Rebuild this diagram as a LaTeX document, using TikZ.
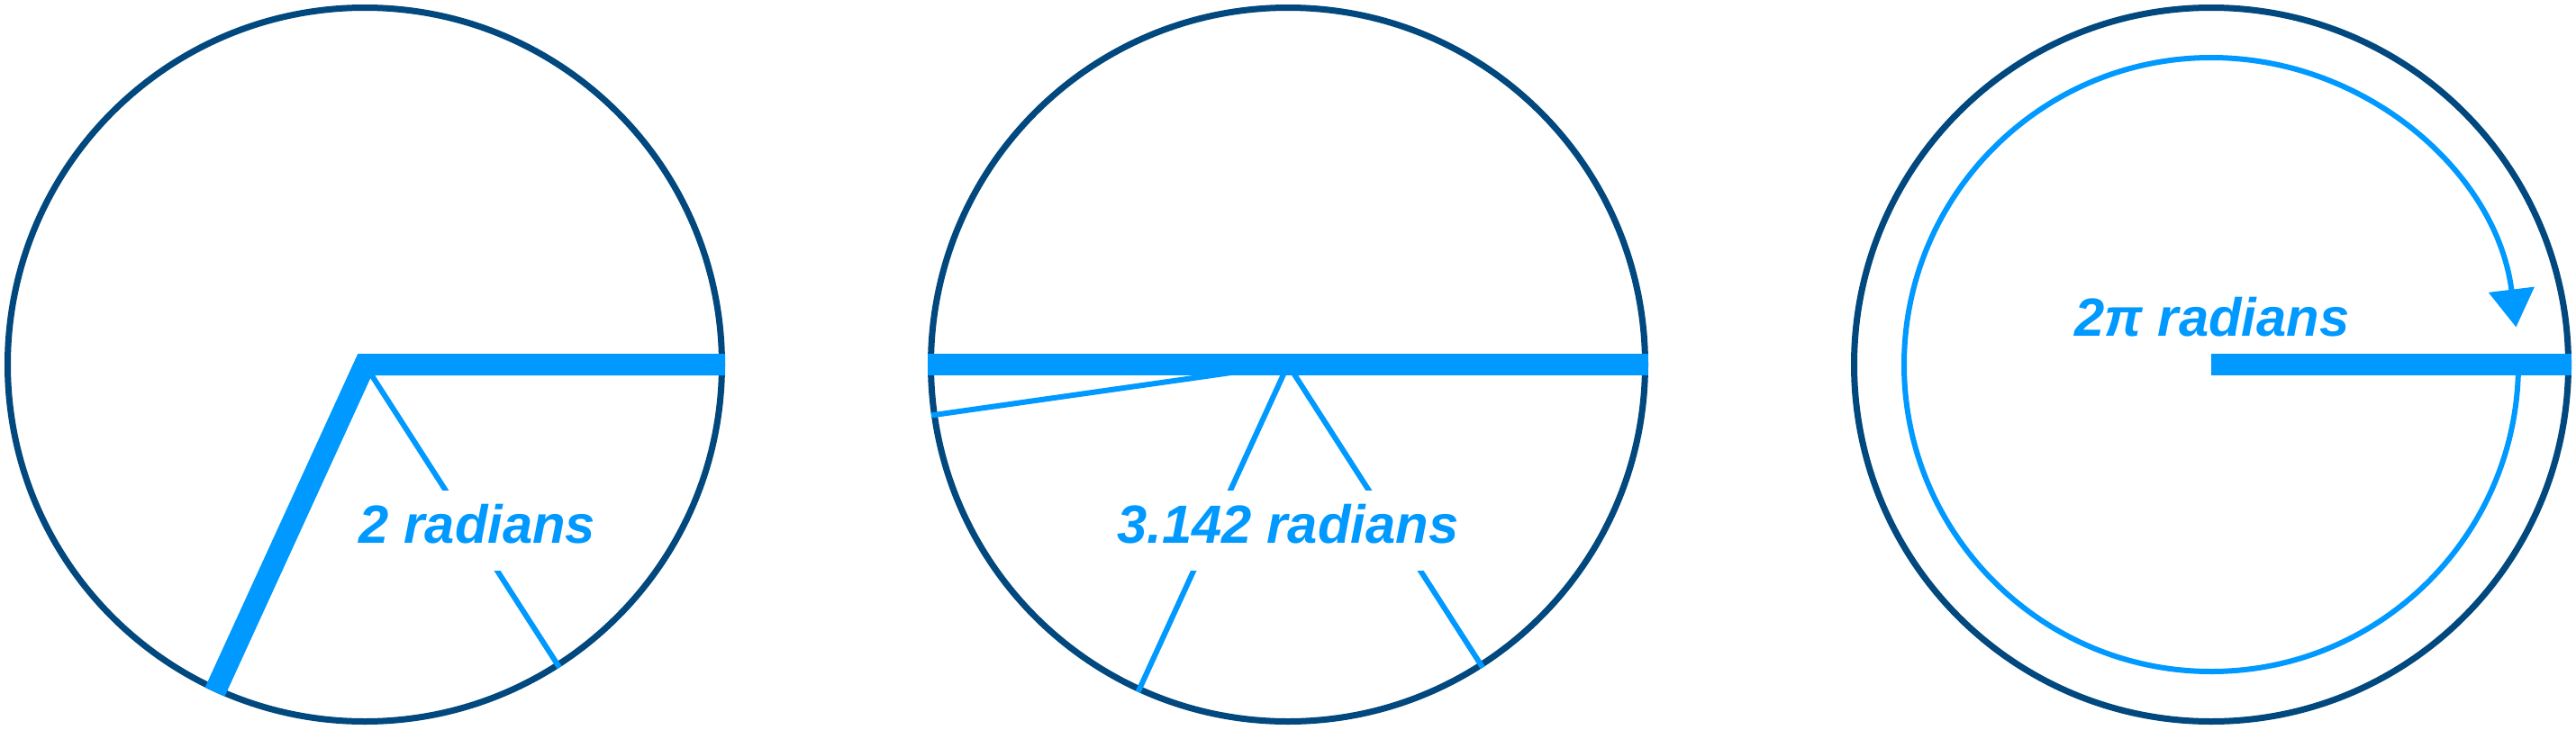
\documentclass[tikz,border=0pt]{standalone}
\usepackage{fontspec}
\setmainfont{Liberation Sans}
\usetikzlibrary{arrows.meta}
\definecolor{rimblue}{HTML}{00487E}
\definecolor{skyblue}{HTML}{0099FF}

\begin{document}
\begin{tikzpicture}[
  rim/.style={draw=rimblue,line width=0.07cm},
  spoke/.style={draw=skyblue,line width=0.06cm},
  rad/.style={draw=skyblue,line width=0.24cm,line join=miter},
  lbl/.style={text=skyblue,font=\fontsize{17}{20}\selectfont\bfseries\itshape,anchor=base,inner sep=0pt},
  boxlbl/.style={lbl,fill=white,inner xsep=0.08cm,inner ysep=0.14cm,text height=0.44cm,text depth=0.17cm},
  arrw/.style={draw=skyblue,line width=0.06cm,-{Triangle[length=0.42cm,width=0.5cm]}}]

\useasboundingbox (0,0) rectangle (28.6,8.1);

% centres of the three circles
\coordinate (c1) at (4.05,4.05);
\coordinate (c2) at (14.30,4.05);
\coordinate (c3) at (24.55,4.05);

% 2 radians
\draw[rim] (c1) circle[radius=3.965];
\path (c1) ++(0:4) coordinate (c1r) (c1) ++(-57.296:4) coordinate (c1m) (c1) ++(-114.59:4) coordinate (c1b);
\draw[spoke] (c1) -- (c1m);
\node[boxlbl] (lbl1) at (5.30,2.07) {2 radians};
\draw[rad] (c1r) -- (c1) -- (c1b);

% 3.142 radians, spokes at 1, 2 and 3 radians
\draw[rim] (c2) circle[radius=3.965];
\foreach \k in {1,2,3}
  \path (c2) ++(-57.296*\k:4) coordinate (c2s\k);
\draw[spoke] (c2) -- (c2s1) (c2) -- (c2s2) (c2) -- (c2s3);
\node[boxlbl] (lbl2) at (14.30,2.07) {3.142 radians};
\path (c2) ++(0:4) coordinate (c2r) (c2) ++(180:4) coordinate (c2l);
\draw[rad] (c2l) -- (c2r);

% 2pi radians: full turn
\draw[rim] (c3) circle[radius=3.965];
\path (c3) ++(0:3.41) coordinate (c3a) (c3) ++(0:4) coordinate (c3r);
\draw[arrw] (c3a) arc[start angle=0,end angle=-353,radius=3.41];
\node[lbl] (lbl3) at (24.56,4.37) {2π radians};
\draw[rad] (c3) -- (c3r);
\end{tikzpicture}
\end{document}
